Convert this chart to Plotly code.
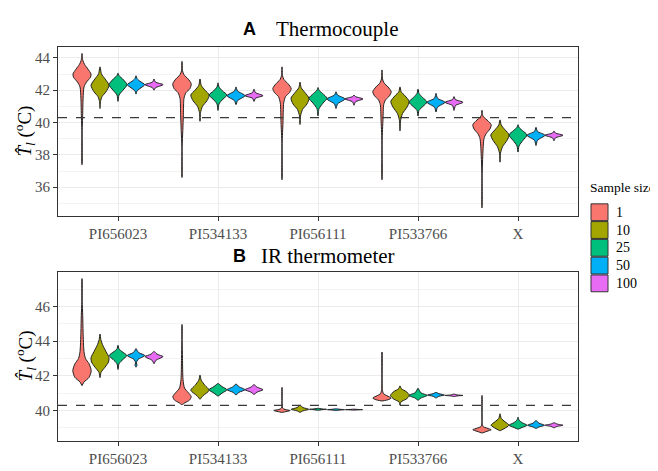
import plotly.graph_objects as go

genotypes = ["PI656023", "PI534133", "PI656111", "PI533766", "X"]
sample_sizes = ["1", "10", "25", "50", "100"]
colors = ["#F8766D", "#A3A500", "#00BF7D", "#00B0F6", "#E76BF3"]
threshold = 40.3
panel_titles = [("A", "Thermocouple"), ("B", "IR thermometer")]

# Violin outlines: (temperature, half-width in category units)
# one list per genotype, five profiles (sample size 1, 10, 25, 50, 100)
tc_PI656023 = [
    [(37.39, .0006), (39.5, .0012), (40.3, .006), (41.5, .011), (42.2, .02), (42.5, .045), (42.8, .085), (43.0, .09), (43.3, .06), (43.6, .025), (43.85, .008), (44.27, .0006)],
    [(40.87, .0006), (41.3, .005), (41.6, .02), (41.9, .06), (42.3, .09), (42.7, .05), (43.0, .015), (43.44, .0006)],
    [(41.31, .0006), (41.7, .01), (42.0, .05), (42.34, .09), (42.7, .045), (42.9, .01), (43.05, .0006)],
    [(41.76, .0006), (41.95, .01), (42.15, .05), (42.34, .088), (42.55, .04), (42.72, .01), (42.89, .0006)],
    [(42.0, .0006), (42.15, .015), (42.34, .09), (42.5, .015), (42.69, .0006)],
]
tc_PI534133 = [
    [(36.6, .0006), (38.5, .0012), (39.5, .008), (40.5, .014), (41.5, .02), (41.85, .04), (42.1, .08), (42.4, .092), (42.7, .06), (42.95, .02), (43.2, .005), (43.78, .0006)],
    [(40.08, .0006), (40.6, .005), (41.0, .025), (41.35, .07), (41.7, .092), (42.0, .05), (42.3, .012), (42.69, .0006)],
    [(40.75, .0006), (41.15, .01), (41.45, .05), (41.7, .09), (41.95, .045), (42.2, .01), (42.45, .0006)],
    [(41.11, .0006), (41.35, .015), (41.66, .09), (41.95, .015), (42.2, .0006)],
    [(41.31, .0006), (41.5, .015), (41.66, .09), (41.85, .015), (42.06, .0006)],
]
tc_PI656111 = [
    [(36.46, .0006), (38.7, .0012), (40.0, .01), (41.2, .017), (41.6, .035), (41.85, .075), (42.1, .092), (42.4, .06), (42.65, .02), (42.9, .005), (43.44, .0006)],
    [(39.88, .0006), (40.4, .005), (40.8, .025), (41.15, .07), (41.5, .09), (41.85, .05), (42.15, .012), (42.49, .0006)],
    [(40.41, .0006), (40.85, .01), (41.2, .05), (41.5, .09), (41.8, .045), (42.0, .01), (42.16, .0006)],
    [(40.87, .0006), (41.15, .015), (41.46, .09), (41.7, .015), (41.9, .0006)],
    [(41.07, .0006), (41.28, .015), (41.46, .09), (41.6, .015), (41.7, .0006)],
]
tc_PI533766 = [
    [(36.46, .0006), (38.9, .0012), (40.2, .01), (41.1, .017), (41.4, .035), (41.65, .075), (41.9, .092), (42.2, .06), (42.45, .02), (42.7, .005), (43.25, .0006)],
    [(39.48, .0006), (40.1, .005), (40.55, .025), (40.95, .07), (41.3, .092), (41.65, .05), (41.9, .012), (42.2, .0006)],
    [(40.41, .0006), (40.75, .01), (41.0, .05), (41.27, .09), (41.55, .045), (41.8, .01), (42.06, .0006)],
    [(40.65, .0006), (40.95, .015), (41.25, .09), (41.5, .015), (41.8, .0006)],
    [(40.75, .0006), (41.05, .015), (41.25, .09), (41.42, .015), (41.6, .0006)],
]
tc_X = [
    [(34.72, .0006), (36.7, .0012), (38.0, .008), (39.0, .02), (39.3, .04), (39.6, .08), (39.86, .092), (40.1, .06), (40.35, .015), (40.5, .004), (40.75, .0006)],
    [(37.55, .0006), (38.1, .005), (38.5, .025), (38.9, .07), (39.23, .092), (39.55, .05), (39.85, .012), (40.16, .0006)],
    [(38.18, .0006), (38.55, .01), (38.9, .05), (39.23, .09), (39.5, .045), (39.7, .01), (39.86, .0006)],
    [(38.58, .0006), (38.9, .015), (39.21, .09), (39.45, .015), (39.7, .0006)],
    [(38.87, .0006), (39.05, .015), (39.21, .09), (39.35, .015), (39.47, .0006)],
]

ir_PI656023 = [
    [(41.44, .0006), (41.65, .02), (41.9, .07), (42.3, .092), (42.7, .07), (43.0, .035), (43.4, .02), (44.5, .011), (45.5, .007), (46.3, .0015), (47.61, .0006)],
    [(41.9, .0006), (42.2, .01), (42.5, .05), (42.8, .085), (43.05, .09), (43.4, .06), (43.8, .025), (44.1, .008), (44.41, .0006)],
    [(42.37, .0006), (42.7, .01), (42.95, .05), (43.17, .088), (43.4, .04), (43.55, .01), (43.76, .0006)],
    [(42.5, .0006), (42.62, .01), (42.75, .004), (42.95, .02), (43.17, .088), (43.35, .025), (43.57, .0006)],
    [(42.7, .0006), (42.9, .02), (43.11, .09), (43.25, .03), (43.42, .0006)],
]
ir_PI534133 = [
    [(40.33, .0006), (40.45, .03), (40.6, .075), (40.8, .092), (41.05, .06), (41.3, .025), (41.8, .01), (43.0, .005), (44.0, .0012), (44.96, .0006)],
    [(40.65, .0006), (40.85, .03), (41.17, .092), (41.45, .05), (41.75, .012), (42.04, .0006)],
    [(40.83, .0006), (41.0, .04), (41.2, .09), (41.38, .04), (41.57, .0006)],
    [(40.89, .0006), (41.05, .03), (41.2, .09), (41.37, .03), (41.54, .0006)],
    [(40.92, .0006), (41.06, .03), (41.2, .09), (41.35, .03), (41.5, .0006)],
]
ir_PI656111 = [
    [(39.89, .0006), (39.95, .05), (40.0, .082), (40.06, .03), (40.15, .005), (40.5, .0012), (41.33, .0006)],
    [(39.89, .0006), (39.98, .03), (40.07, .087), (40.17, .03), (40.31, .0006)],
    [(40.01, .0006), (40.05, .04), (40.07, .085), (40.09, .04), (40.13, .0006)],
    [(40.0, .0006), (40.03, .04), (40.05, .085), (40.07, .04), (40.1, .0006)],
    [(40.02, .0006), (40.04, .04), (40.05, .085), (40.06, .04), (40.08, .0006)],
]
ir_PI533766 = [
    [(40.55, .0006), (40.62, .06), (40.72, .092), (40.85, .05), (40.97, .015), (41.2, .004), (42.0, .0012), (43.37, .0006)],
    [(40.31, .0006), (40.5, .01), (40.65, .06), (40.87, .095), (41.1, .06), (41.25, .015), (41.42, .0006)],
    [(40.59, .0006), (40.72, .03), (40.87, .092), (41.02, .03), (41.28, .0006)],
    [(40.72, .0006), (40.82, .03), (40.89, .085), (40.97, .03), (41.05, .0006)],
    [(40.8, .0006), (40.84, .03), (40.87, .09), (40.9, .03), (40.95, .0006)],
]
ir_X = [
    [(38.7, .0006), (38.8, .05), (38.89, .092), (38.98, .05), (39.08, .01), (39.3, .0015), (40.87, .0006)],
    [(38.83, .0006), (38.95, .04), (39.15, .09), (39.35, .05), (39.55, .012), (39.81, .0006)],
    [(38.92, .0006), (39.02, .04), (39.15, .09), (39.3, .04), (39.45, .01), (39.61, .0006)],
    [(38.96, .0006), (39.05, .03), (39.15, .085), (39.27, .03), (39.42, .0006)],
    [(39.0, .0006), (39.08, .03), (39.15, .09), (39.22, .03), (39.3, .0006)],
]

panels = [
    [tc_PI656023, tc_PI534133, tc_PI656111, tc_PI533766, tc_X],
    [ir_PI656023, ir_PI534133, ir_PI656111, ir_PI533766, ir_X],
]

yranges = [[34.21, 44.67], [38.24, 48.0]]
ymajor = [[36, 38, 40, 42, 44], [40, 42, 44, 46]]
yminor = [[35, 37, 39, 41, 43], [39, 41, 43, 45, 47]]

# ---- layout geometry (pixels) ----
W, H = 658, 471
L, R, T, B = 50, 570, 39, 449
panel_px = [(39, 215), (273, 449)]
dodge = 0.18

def px2x(px):
    return (px - L) / (R - L)

def py2y(py):
    return (B - py) / (B - T)

fig = go.Figure()
serif = "Liberation Serif, serif"
sans = "Liberation Sans, sans-serif"

for p, groups in enumerate(panels):
    xa = "x" if p == 0 else "x2"
    ya = "y" if p == 0 else "y2"
    for g, profiles in enumerate(groups):
        for k, prof in enumerate(profiles):
            c = (g + 1) + (k - 2) * dodge
            ys = [pt[0] for pt in prof]
            ws = [pt[1] for pt in prof]
            xs = [c + w for w in ws] + [c - w for w in reversed(ws)] + [c + ws[0]]
            yy = ys + list(reversed(ys)) + [ys[0]]
            fig.add_trace(go.Scatter(
                x=xs, y=yy, xaxis=xa, yaxis=ya, mode="lines", fill="toself",
                fillcolor=colors[k], line=dict(color="#222222", width=1.0, shape="spline", smoothing=0.7),
                showlegend=False, hoverinfo="skip"))

layout = dict(
    width=W, height=H, margin=dict(l=L, r=W - R, t=T, b=H - B),
    plot_bgcolor="white", paper_bgcolor="white", showlegend=False,
    font=dict(family=serif, size=14, color="#4D4D4D"),
)
for p in range(2):
    sfx = "" if p == 0 else "2"
    top, bot = panel_px[p]
    dom = [py2y(bot), py2y(top)]
    layout["xaxis" + sfx] = dict(
        domain=[0, 1], anchor="y" + sfx, range=[0.4, 5.6],
        tickvals=[1, 2, 3, 4, 5], ticktext=genotypes,
        showgrid=True, gridcolor="#EBEBEB", gridwidth=1, zeroline=False,
        showline=True, linecolor="#333333", linewidth=1, mirror=True,
        ticks="outside", ticklen=4, tickcolor="#333333",
        tickfont=dict(family=serif, size=15, color="#4D4D4D"),
    )
    layout["yaxis" + sfx] = dict(
        domain=dom, anchor="x" + sfx, range=yranges[p],
        tickvals=ymajor[p], showgrid=True, gridcolor="#EBEBEB", gridwidth=1,
        minor=dict(tickvals=yminor[p], showgrid=True, gridcolor="#F3F3F3", gridwidth=0.7),
        zeroline=False, showline=True, linecolor="#333333", linewidth=1, mirror=True,
        ticks="outside", ticklen=4, tickcolor="#333333",
        tickfont=dict(family=serif, size=15, color="#4D4D4D"),
    )
fig.update_layout(**layout)

shapes = []
annotations = []
for p in range(2):
    xr = "x" if p == 0 else "x2"
    yr = "y" if p == 0 else "y2"
    shapes.append(dict(type="line", xref=xr + " domain", yref=yr, x0=0, x1=1,
                       y0=threshold, y1=threshold, line=dict(color="#3a3a3a", width=1.3, dash="dash"),
                       layer="above"))

# panel titles
title_py = [20, 256]
title_letter_right = [250, 240]
title_text_left = [266, 251]
for p in range(2):
    letter, text = panel_titles[p]
    annotations.append(dict(text="<b>" + letter + "</b>", xref="paper", yref="paper",
                            x=px2x(title_letter_right[p]), y=py2y(title_py[p]),
                            xanchor="right", yanchor="middle", showarrow=False,
                            font=dict(family=sans, size=18, color="black")))
    annotations.append(dict(text=text, xref="paper", yref="paper",
                            x=px2x(title_text_left[p]), y=py2y(title_py[p]),
                            xanchor="left", yanchor="middle", showarrow=False,
                            font=dict(family=serif, size=21, color="black")))
    top, bot = panel_px[p]
    annotations.append(dict(text="<i>T\u0302</i><sub><i>l</i></sub> (<sup>o</sup>C)", xref="paper", yref="paper",
                            x=px2x(17), y=py2y((top + bot) / 2), textangle=-90,
                            xanchor="center", yanchor="middle", showarrow=False,
                            font=dict(family=serif, size=19, color="black")))

# legend (drawn manually)
annotations.append(dict(text="Sample size", xref="paper", yref="paper",
                        x=px2x(580), y=py2y(185), xanchor="left", yanchor="middle",
                        showarrow=False, font=dict(family=serif, size=13.5, color="black")))
box_top = 201.7
box_h = 18.5
for k, lab in enumerate(sample_sizes):
    y0 = box_top + k * box_h
    shapes.append(dict(type="rect", xref="paper", yref="paper",
                       x0=px2x(583), x1=px2x(600), y0=py2y(y0 + box_h - 0.5), y1=py2y(y0 + 0.5),
                       fillcolor=colors[k], line=dict(color="#333333", width=1)))
    annotations.append(dict(text=lab, xref="paper", yref="paper",
                            x=px2x(606), y=py2y(y0 + box_h / 2), xanchor="left", yanchor="middle",
                            showarrow=False, font=dict(family=serif, size=14, color="black")))

fig.update_layout(shapes=shapes, annotations=annotations)
fig.write_html("out.html")
